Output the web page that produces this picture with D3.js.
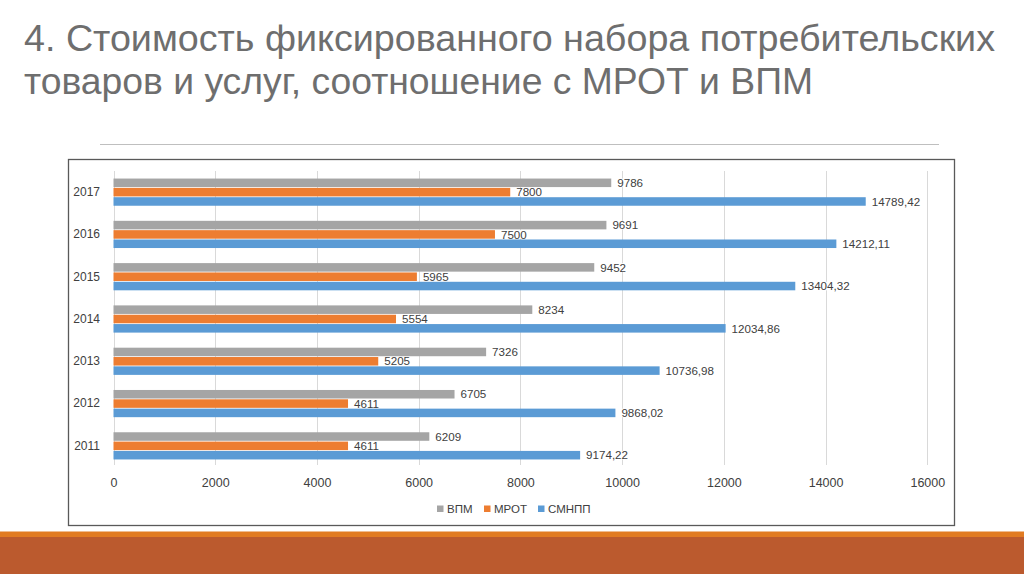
<!DOCTYPE html>
<html><head><meta charset="utf-8">
<script src="https://cdn.jsdelivr.net/npm/d3@7"></script>
<style>
html,body{margin:0;padding:0;background:#fff;}
svg{display:block;}
</style></head>
<body>
<svg id="c" width="1024" height="574"></svg>
<script>
const titleLines = ["4. Стоимость фиксированного набора потребительских", "товаров и услуг, соотношение с МРОТ и ВПМ"];
const years = ["2011","2012","2013","2014","2015","2016","2017"];
const seriesNames = ["ВПМ","МРОТ","СМНПП"];
const vpm = [6209, 6705, 7326, 8234, 9452, 9691, 9786];
const mrot = [4611, 4611, 5205, 5554, 5965, 7500, 7800];
const smnpp = [9174.22, 9868.02, 10736.98, 12034.86, 13404.32, 14212.11, 14789.42];
const xTicks = [0,2000,4000,6000,8000,10000,12000,14000,16000];
const colors = ["#A5A5A5","#ED7D31","#5B9BD5"];
const decimals = [0,0,2];

const seriesValues = [vpm, mrot, smnpp];
const loc = d3.formatLocale({decimal:",", thousands:"", grouping:[3], currency:["",""]});

const svg = d3.select("#c");

// bottom bands
svg.append("rect").attr("x",0).attr("y",531.5).attr("width",1024).attr("height",6).attr("fill","#E17B22");
svg.append("rect").attr("x",0).attr("y",537).attr("width",1024).attr("height",37).attr("fill","#BB5A2E");

// title (one text, two lines)
const tt = svg.append("text").attr("font-family","'Liberation Sans Narrow','Liberation Sans',Arial,sans-serif").attr("fill","#6e6e6e").attr("font-size",36);
const tLens = [971, 789];
titleLines.forEach((ln,i)=>{
  tt.append("tspan").attr("x",24).attr("y",51+43*i).attr("textLength",tLens[i]).attr("lengthAdjust","spacingAndGlyphs").text(ln);
});

// separator line
svg.append("line").attr("x1",100).attr("x2",939).attr("y1",144.5).attr("y2",144.5).attr("stroke","#BFBFBF").attr("stroke-width",1);

// chart box
svg.append("rect").attr("x",68.5).attr("y",159.5).attr("width",886).attr("height",366).attr("fill","#fff").attr("stroke","#595959").attr("stroke-width",1.3);

const x = d3.scaleLinear().domain([0,16000]).range([113.5,927.3]);
const y = d3.scaleBand().domain(years.slice().reverse()).range([171,467]).paddingInner(0).paddingOuter(0);
const inner = d3.scaleBand().domain(seriesNames).range([0,28]);
const groupOff = (y.bandwidth()-28)/2;

// gridlines
const grid = svg.append("g");
grid.selectAll("line").data(xTicks).join("line")
  .attr("x1",d=>Math.round(x(d))+0.5).attr("x2",d=>Math.round(x(d))+0.5)
  .attr("y1",171).attr("y2",465).attr("stroke","#D9D9D9").attr("stroke-width",1);

// x axis labels
const xAxis = d3.axisBottom(x).tickValues(xTicks).tickSize(0).tickPadding(0).tickFormat(d3.format("d"));
const xg = svg.append("g").attr("transform","translate(0,478)").call(xAxis);
xg.select(".domain").remove();
xg.selectAll("text").attr("font-family","'Liberation Sans',Arial,sans-serif").attr("font-size",12.5).attr("fill","#404040").attr("dy","0.71em");

// y axis labels
const yAxis = d3.axisLeft(y).tickSize(0).tickPadding(0);
const yg = svg.append("g").attr("transform","translate(100,0)").call(yAxis);
yg.select(".domain").remove();
yg.selectAll("text").attr("font-family","'Liberation Sans',Arial,sans-serif").attr("font-size",12).attr("fill","#404040");

// bars
const rows = [];
years.forEach((yr,i)=>seriesNames.forEach((s,j)=>rows.push({yr, s, j, v:seriesValues[j][i]})));
const bars = svg.append("g");
bars.selectAll("rect").data(rows).join("rect")
  .attr("x",x(0)).attr("y",d=>y(d.yr)+groupOff+inner(d.s)+0.4)
  .attr("width",d=>x(d.v)-x(0)).attr("height",inner.bandwidth()-0.8)
  .attr("fill",d=>colors[d.j]);

// labels
const lg = svg.append("g").attr("font-family","'Liberation Sans',Arial,sans-serif").attr("font-size",11.6).attr("fill","#404040");
const bgs = lg.append("g");
const txts = lg.append("g");
rows.forEach(d=>{
  const top = y(d.yr)+groupOff+inner(d.s);
  const t = txts.append("text").attr("x",x(d.v)+6).attr("y",top+inner.bandwidth()/2).attr("dy","0.36em")
    .text(loc.format(decimals[d.j]? ",."+decimals[d.j]+"f" : "d")(d.v));
  const b = t.node().getBBox();
  bgs.append("rect").attr("x",b.x-2).attr("y",top+0.4).attr("width",b.width+4).attr("height",inner.bandwidth()-0.8).attr("fill","#fff");
});

// legend
const legX = [437, 484, 538];
const leg = svg.append("g").attr("font-family","'Liberation Sans',Arial,sans-serif").attr("font-size",11.5).attr("fill","#404040");
seriesNames.forEach((s,j)=>{
  leg.append("rect").attr("x",legX[j]).attr("y",505.5).attr("width",6.5).attr("height",6.5).attr("fill",colors[j]);
  leg.append("text").attr("x",legX[j]+10).attr("y",509).attr("dy","0.36em").text(s);
});
</script>
</body></html>
